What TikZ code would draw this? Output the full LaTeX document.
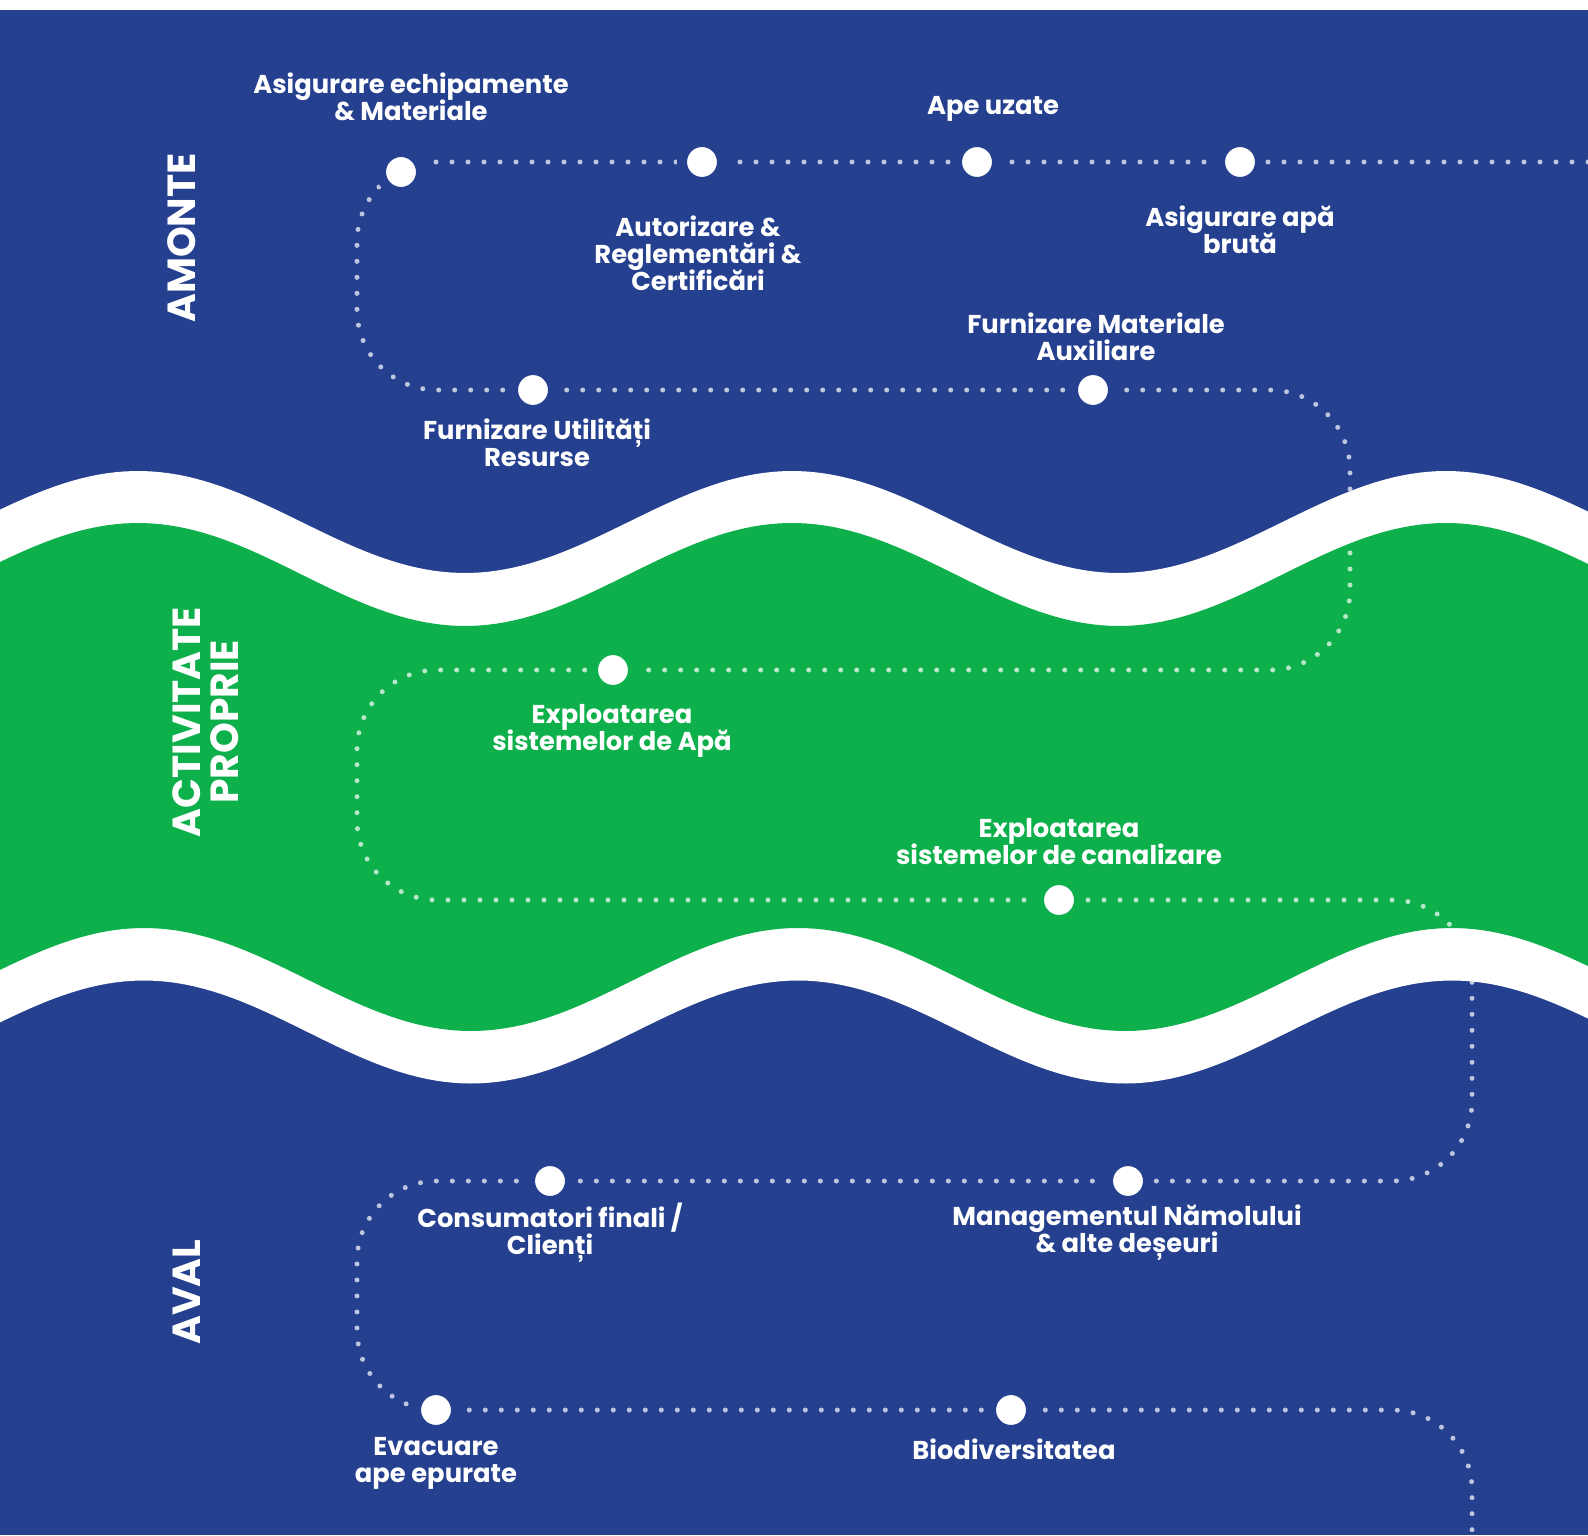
\documentclass[tikz,border=0pt]{standalone}
\usepackage{fontspec}
\setmainfont{Poppins}
\usetikzlibrary{positioning}

\definecolor{riverblue}{RGB}{37,64,143}
\definecolor{rivergreen}{RGB}{13,176,75}

\newcommand\tightlines{\lineskiplimit -10pt\relax}

\tikzset{
    stage/.style={circle, fill=white, draw=#1, line width=5pt, minimum size=20pt, inner sep=0pt},
    stagetext/.style={text=white, align=center, inner sep=0pt, font={\bfseries\fontsize{12.9}{13.5}\selectfont\tightlines}},
    zone/.style={text=white, rotate=90, align=center, inner sep=0pt, font={\bfseries\fontsize{19.6}{19}\selectfont\tightlines}},
    trail/.style={white, draw opacity=0.7, line width=2.5pt, line cap=round, dash pattern=on 0pt off 8pt, rounded corners=40pt},
}

\begin{document}
\begin{tikzpicture}[x=0.5pt, y=-0.5pt]
            %\draw[lightgray] (0, 0) grid[step=100] (1588, 1535);
            \useasboundingbox (0, 0) rectangle (1588, 1535);
            \fill[white] (0, 0) rectangle (1588, 1535);
            \fill[riverblue] (0, 10) rectangle (1588, 1535);
            \fill[white] plot[domain=0:1588, samples=180] (\x, {522-51*cos(0.55046*(\x-138))})
                -- plot[domain=1588:0, samples=180] (\x, {1032-51.5*cos(0.55046*(\x-144))}) -- cycle;
            \fill[rivergreen] plot[domain=0:1588, samples=180] (\x, {574.5-51.5*cos(0.55046*(\x-138))})
                -- plot[domain=1588:0, samples=180] (\x, {979.5-51.5*cos(0.55046*(\x-144))}) -- cycle;

            \node[zone] (amonte) at (182, 238) {AMONTE};
            \node[zone] (proprie) at (206, 722) {ACTIVITATE\\PROPRIE};
            \node[zone] (aval) at (187, 1292) {AVAL};

            \coordinate (e1) at (1588, 162);
            \coordinate (c1) at (357, 162);
            \coordinate (c2) at (357, 390);
            \coordinate (c3) at (1350, 390);
            \coordinate (c4) at (1350, 670);
            \coordinate (c5) at (357, 670);
            \coordinate (c6) at (357, 900);
            \coordinate (c7) at (1472, 900);
            \coordinate (c8) at (1472, 1181);
            \coordinate (c9) at (357, 1181);
            \coordinate (c10) at (357, 1410);
            \coordinate (c11) at (1472, 1410);
            \coordinate (e2) at (1472, 1540);

            \node[stage=riverblue] (d1) at (401, 172) {};
            \node[stage=riverblue] (d2) at (702, 162) {};
            \node[stage=riverblue] (d3) at (977, 162) {};
            \node[stage=riverblue] (d4) at (1240, 162) {};
            \node[stage=riverblue] (d5) at (533, 390) {};
            \node[stage=riverblue] (d6) at (1093, 390) {};
            \node[stage=rivergreen] (d7) at (613, 670) {};
            \node[stage=rivergreen] (d8) at (1059, 900) {};
            \node[stage=riverblue] (d9) at (550, 1181) {};
            \node[stage=riverblue] (d10) at (1128, 1181) {};
            \node[stage=riverblue] (d11) at (436, 1410) {};
            \node[stage=riverblue] (d12) at (1011, 1410) {};

            \draw[trail] (e1) -- (d4.center) -- (d3.center) -- (d2.center) -- (c1) -- (c2)
                -- (d5.center) -- (d6.center) -- (c3) -- (c4) -- (d7.center) -- (c5) -- (c6)
                -- (d8.center) -- (c7) -- (c8) -- (d10.center) -- (d9.center) -- (c9) -- (c10)
                -- (d12.center) -- (c11) -- (e2);
            \foreach \d/\c in {d1/riverblue, d2/riverblue, d3/riverblue, d4/riverblue, d5/riverblue, d6/riverblue,
                d7/rivergreen, d8/rivergreen, d9/riverblue, d10/riverblue, d11/riverblue, d12/riverblue}
                \node[stage=\c] at (\d) {};

            \node[stagetext] (l1) at (411, 97) {Asigurare echipamente\\\& Materiale};
            \node[stagetext] (l2) at (698, 253) {Autorizare \&\\Reglementări \&\\Certificări};
            \node[stagetext] (l3) at (993, 109) {Ape uzate};
            \node[stagetext] (l4) at (1240, 230) {Asigurare apă\\brută};
            \node[stagetext] (l5) at (537, 443) {Furnizare Utilități\\Resurse};
            \node[stagetext] (l6) at (1096, 337) {Furnizare Materiale\\Auxiliare};
            \node[stagetext] (l7) at (612, 731) {Exploatarea\\sistemelor de Apă};
            \node[stagetext] (l8) at (1059, 842) {Exploatarea\\sistemelor de canalizare};
            \node[stagetext] (l9) at (550, 1233) {Consumatori finali /\\Clienți};
            \node[stagetext] (l10) at (1127, 1233) {Managementul Nămolului\\\& alte deșeuri};
            \node[stagetext] (l11) at (436, 1463) {Evacuare\\ape epurate};
            \node[stagetext] (l12) at (1014, 1449) {Biodiversitatea};
        \end{tikzpicture}
\end{document}
